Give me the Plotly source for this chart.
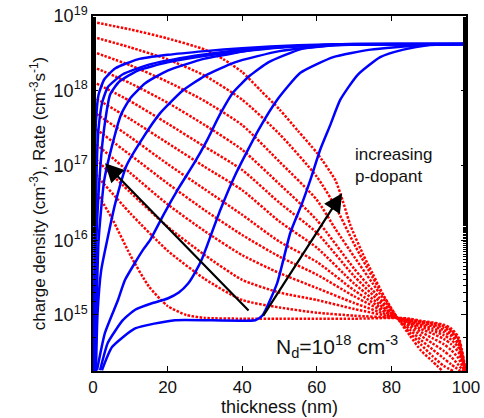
import plotly.graph_objects as go

# ---------------- data (x in nm, y given as log10 of value) ----------------
# blue solid curves: charge density
blue_1_x = [0.2, 0.3, 0.4, 0.5, 0.8, 1.5, 3, 6, 12, 20, 30, 40, 55, 70, 100]
blue_1_y = [14.25, 15, 16, 17, 17.6, 17.95, 18.15, 18.3, 18.42, 18.48, 18.53, 18.57, 18.61, 18.625, 18.625]
blue_2_x = [0.4, 0.5, 0.7, 1.0, 1.5, 2.5, 4, 8, 15, 25, 40, 60, 100]
blue_2_y = [14.25, 15, 16, 17, 17.5, 17.85, 18.05, 18.22, 18.35, 18.45, 18.55, 18.61, 18.625]
blue_3_x = [0.5, 0.6, 0.9, 2.0, 3.0, 4.6, 7, 12, 20, 32, 50, 70, 100]
blue_3_y = [14.25, 15, 16, 17, 17.5, 17.95, 18.12, 18.27, 18.38, 18.48, 18.58, 18.62, 18.625]
blue_4_x = [0.6, 0.9, 1.5, 3, 5.5, 7.5, 10, 14, 20, 30, 45, 65, 100]
blue_4_y = [14.25, 15, 16, 16.8, 17.34, 17.68, 17.9, 18.1, 18.27, 18.43, 18.56, 18.62, 18.625]
blue_5_x = [0.8, 1.2, 2.2, 3.8, 6, 9, 13, 18, 24, 30, 38, 50, 65, 100]
blue_5_y = [14.25, 15, 15.6, 16, 16.5, 17.0, 17.34, 17.7, 18.0, 18.2, 18.38, 18.53, 18.61, 18.625]
blue_6_x = [1.07, 3.2, 6.7, 8.6, 13.4, 15.3, 19, 23, 27, 30.6, 34, 37.6, 42, 47, 56, 66, 100]
blue_6_y = [14.26, 14.76, 15.2, 15.47, 15.87, 16.0, 16.35, 16.7, 17.02, 17.34, 17.68, 17.98, 18.2, 18.38, 18.56, 18.62, 18.625]
blue_7_x = [1.9, 4.0, 8, 11.3, 16, 20, 23, 25.5, 27.5, 29.3, 30.6, 34.1, 38.1, 44.3, 49.4, 55.6, 64.4, 74.4, 87.8, 100]
blue_7_y = [14.26, 14.63, 14.93, 15.07, 15.16, 15.22, 15.3, 15.42, 15.58, 15.76, 15.93, 16.4, 16.87, 17.47, 17.88, 18.24, 18.45, 18.55, 18.61, 18.625]
blue_8_x = [2.4, 5.1, 11.3, 22, 43.5, 45.4, 49.4, 52.9, 56.1, 58.3, 60.9, 63.6, 66.3, 70.9, 77, 83.2, 89.7, 100]
blue_8_y = [14.26, 14.57, 14.82, 14.93, 14.93, 14.99, 15.43, 16.10, 16.50, 16.81, 17.21, 17.54, 17.88, 18.21, 18.45, 18.55, 18.61, 18.625]

# red dotted curves: rate
red_0_x = [0, 10, 20, 30, 35, 40, 45, 50, 55, 60, 65, 67, 69, 72.5, 75, 78, 81.6, 85, 88, 91, 93.7]
red_0_y = [18.92, 18.82, 18.70, 18.55, 18.42, 18.25, 18.0, 17.75, 17.46, 17.17, 16.8, 16.52, 16.2, 15.8, 15.55, 15.25, 14.96, 14.72, 14.52, 14.38, 14.25]
red_1_x = [0, 10, 20, 30, 40, 50, 60, 65, 70, 75, 81.6, 85, 88, 91, 94, 96.6]
red_1_y = [18.72, 18.58, 18.42, 18.2, 17.88, 17.42, 16.85, 16.45, 15.95, 15.5, 14.96, 14.76, 14.6, 14.45, 14.32, 14.25]
red_2_x = [0, 10, 20, 30, 40, 50, 60, 65, 70, 75, 81.6, 85, 88, 91, 94, 96, 98.5]
red_2_y = [18.52, 18.34, 18.12, 17.86, 17.54, 17.05, 16.54, 16.15, 15.78, 15.42, 14.96, 14.8, 14.66, 14.54, 14.42, 14.34, 14.25]
red_3_x = [0, 10, 20, 30, 40, 50, 60, 70, 75, 81.6, 85, 88, 91, 94, 96, 98, 99.3]
red_3_y = [18.32, 18.1, 17.84, 17.54, 17.21, 16.75, 16.27, 15.62, 15.33, 14.96, 14.84, 14.72, 14.62, 14.52, 14.44, 14.33, 14.25]
red_4_x = [0, 10, 20, 30, 40, 50, 60, 70, 81.6, 85, 88, 91, 94, 96, 98, 99.5]
red_4_y = [18.12, 17.86, 17.56, 17.25, 16.94, 16.5, 16.1, 15.52, 14.96, 14.87, 14.77, 14.69, 14.61, 14.53, 14.42, 14.25]
red_5_x = [0, 10, 20, 30, 40, 50, 60, 70, 81.6, 85, 88, 91, 94, 96, 98, 99.6]
red_5_y = [17.92, 17.62, 17.3, 16.98, 16.67, 16.25, 15.9, 15.42, 14.96, 14.89, 14.81, 14.75, 14.68, 14.61, 14.5, 14.25]
red_6_x = [0, 10, 20, 30, 40, 50, 60, 70, 81.6, 85, 88, 91, 94, 96, 98, 99.7]
red_6_y = [17.72, 17.38, 17.02, 16.68, 16.34, 15.98, 15.71, 15.33, 14.96, 14.9, 14.84, 14.79, 14.73, 14.67, 14.56, 14.25]
red_7_x = [0, 10, 20, 30, 40, 50, 60, 70, 81.6, 85, 88, 91, 94, 96, 98, 99.75]
red_7_y = [17.52, 17.14, 16.76, 16.4, 16.07, 15.78, 15.54, 15.25, 14.96, 14.91, 14.86, 14.82, 14.77, 14.72, 14.6, 14.25]
red_8_x = [0, 10, 20, 30, 40, 50, 60, 70, 81.6, 85, 88, 91, 94, 96, 98, 99.8]
red_8_y = [17.32, 16.9, 16.48, 16.12, 15.8, 15.56, 15.36, 15.16, 14.96, 14.92, 14.88, 14.85, 14.8, 14.75, 14.63, 14.25]
red_9_x = [0, 10, 20, 30, 40, 50, 60, 70, 81.6, 85, 88, 91, 94, 96, 98, 99.85]
red_9_y = [17.12, 16.64, 16.18, 15.8, 15.47, 15.3, 15.2, 15.08, 14.96, 14.93, 14.9, 14.87, 14.83, 14.78, 14.66, 14.25]
red_10_x = [0, 10, 20, 30, 40, 50, 60, 70, 81.6, 85, 88, 91, 94, 96, 98, 99.9]
red_10_y = [16.92, 16.36, 15.86, 15.48, 15.2, 15.1, 15.03, 14.99, 14.96, 14.94, 14.91, 14.89, 14.85, 14.8, 14.68, 14.25]
red_11_x = [0, 5, 10, 15, 20, 25, 30, 40, 50, 60, 70, 81.6, 85, 88, 91, 94, 96, 98, 99.95]
red_11_y = [16.72, 16.3, 15.8, 15.38, 15.12, 15.0, 14.96, 14.95, 14.95, 14.95, 14.95, 14.96, 14.95, 14.92, 14.9, 14.87, 14.82, 14.7, 14.25]

blue_curves = [(blue_1_x, blue_1_y), (blue_2_x, blue_2_y), (blue_3_x, blue_3_y), (blue_4_x, blue_4_y),
               (blue_5_x, blue_5_y), (blue_6_x, blue_6_y), (blue_7_x, blue_7_y), (blue_8_x, blue_8_y)]
red_curves = [(red_0_x, red_0_y), (red_1_x, red_1_y), (red_2_x, red_2_y), (red_3_x, red_3_y),
              (red_4_x, red_4_y), (red_5_x, red_5_y), (red_6_x, red_6_y), (red_7_x, red_7_y),
              (red_8_x, red_8_y), (red_9_x, red_9_y), (red_10_x, red_10_y), (red_11_x, red_11_y)]

x_ticks = [0, 20, 40, 60, 80, 100]
y_tick_exps = [15, 16, 17, 18, 19]

# arrows: (tail x, tail log10 y, head x, head log10 y)
arrow_left = (42.1, 15.04, 3.2, 17.03)
arrow_right = (45.4, 14.97, 66.8, 16.63)

# ---------------- figure ----------------
FONT = "Arial, Liberation Sans, sans-serif"
fig = go.Figure()

for xs, ys in red_curves:
    fig.add_trace(go.Scatter(x=xs, y=[10 ** v for v in ys], mode="lines",
                             line=dict(color="#ff0000", width=2.5, dash="2.5px,1.5px", shape="spline", smoothing=0.6),
                             showlegend=False, hoverinfo="skip"))
for xs, ys in blue_curves:
    fig.add_trace(go.Scatter(x=xs, y=[10 ** v for v in ys], mode="lines",
                             line=dict(color="#0000ff", width=2.5, shape="spline", smoothing=0.5),
                             showlegend=False, hoverinfo="skip"))

for tx, ty, hx, hy in (arrow_left, arrow_right):
    fig.add_annotation(x=hx, y=hy, ax=tx, ay=ty, xref="x", yref="y", axref="x", ayref="y",
                       showarrow=True, arrowhead=2, arrowsize=1.7, arrowwidth=2.2,
                       arrowcolor="black", text="")

fig.add_annotation(x=69.8, y=17.0, xref="x", yref="y", xanchor="left", yanchor="middle",
                   text="increasing<br>p-dopant", showarrow=False, align="left",
                   font=dict(family=FONT, size=17, color="#111"))
fig.add_annotation(x=65.5, y=14.58, xref="x", yref="y", xanchor="center", yanchor="middle",
                   text="N<sub>d</sub>=10<sup>18</sup> cm<sup>-3</sup>", showarrow=False,
                   font=dict(family=FONT, size=21, color="#111"))

fig.update_layout(
    width=484, height=418,
    margin=dict(l=93, r=18, t=16, b=47),
    paper_bgcolor="white", plot_bgcolor="white",
    font=dict(family=FONT, color="black"),
    showlegend=False,
)
fig.update_xaxes(
    range=[0, 100], tickvals=x_ticks, ticktext=[str(v) for v in x_ticks],
    ticks="inside", ticklen=5, tickcolor="black", showline=True, linecolor="black",
    linewidth=1.5, mirror="ticks", showgrid=False, zeroline=False, automargin=False,
    tickfont=dict(family=FONT, size=17, color="#111"),
    title=dict(text="thickness (nm)", font=dict(family=FONT, size=18, color="#111"), standoff=2),
)
fig.update_yaxes(
    type="log", range=[14.25, 19],
    tickvals=[10 ** e for e in y_tick_exps],
    ticktext=["10<sup>%d</sup>" % e for e in y_tick_exps],
    ticks="inside", ticklen=5, tickcolor="black", showline=True, linecolor="black",
    linewidth=1.5, mirror="ticks", showgrid=False, zeroline=False, automargin=False,
    minor=dict(ticks="inside", ticklen=3, tickcolor="black", showgrid=False),
    tickfont=dict(family=FONT, size=18, color="#111"),
    title=dict(text="charge density (cm<sup>-3</sup>), Rate (cm<sup>-3</sup>s<sup>-1</sup>)",
               font=dict(family=FONT, size=17, color="#111"), standoff=4),
)

fig.write_html("out.html")
